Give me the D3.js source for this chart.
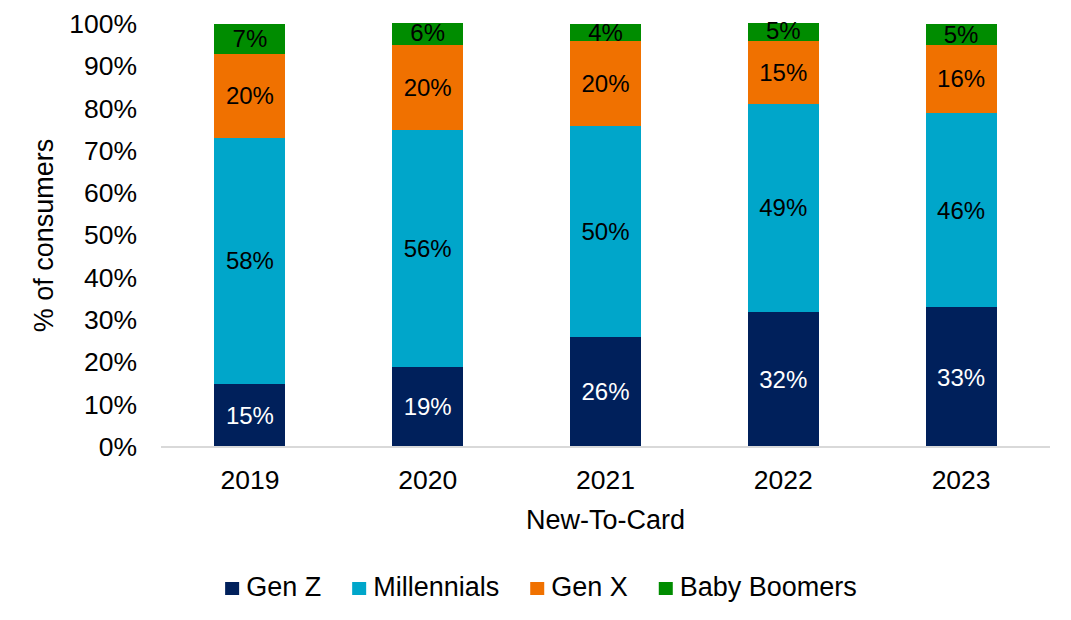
<!DOCTYPE html>
<html>
<head>
<meta charset="utf-8">
<script src="https://cdn.jsdelivr.net/npm/d3@7"></script>
<style>
  html, body { margin: 0; padding: 0; background: #fff; }
  text { font-family: "Liberation Sans", Arial, sans-serif; }
</style>
</head>
<body>
<svg id="chart" width="1071" height="620"></svg>
<script>
const years = ["2019", "2020", "2021", "2022", "2023"];
const seriesNames = ["Gen Z", "Millennials", "Gen X", "Baby Boomers"];
const genZ = [15, 19, 26, 32, 33];
const millennials = [58, 56, 50, 49, 46];
const genX = [20, 20, 20, 15, 16];
const babyBoomers = [7, 6, 4, 5, 5];
const yTicks = [0, 10, 20, 30, 40, 50, 60, 70, 80, 90, 100];
const colors = ["#00205B", "#00A6CA", "#F07100", "#008C00"];
const labelColors = ["#FFFFFF", "#000000", "#000000", "#000000"];

const seriesValues = [genZ, millennials, genX, babyBoomers];
const table = years.map((yr, i) => {
  const row = { year: yr };
  seriesNames.forEach((s, j) => row[s] = seriesValues[j][i]);
  return row;
});

const svg = d3.select("#chart");
const plot = { left: 161, right: 1050, top: 24, bottom: 447 };

const x = d3.scaleBand().domain(years).range([plot.left, plot.right]).paddingInner(0.6).paddingOuter(0.3);
const y = d3.scaleLinear().domain([0, 100]).range([plot.bottom, plot.top]);

const stack = d3.stack().keys(seriesNames);
const stacked = stack(table);

svg.append("defs").append("clipPath").attr("id", "clip")
  .append("rect").attr("x", 0).attr("y", y(100) - 1).attr("width", 1071).attr("height", plot.bottom - y(100) + 1);

const gBars = svg.append("g").attr("clip-path", "url(#clip)");
stacked.forEach((layer, j) => {
  gBars.selectAll(null).data(layer).enter().append("rect")
    .attr("x", d => x(d.data.year))
    .attr("width", x.bandwidth())
    .attr("y", d => y(d[1]))
    .attr("height", d => y(d[0]) - y(d[1]))
    .attr("fill", colors[j])
    .attr("shape-rendering", "crispEdges");
});

// data labels
stacked.forEach((layer, j) => {
  svg.selectAll(null).data(layer).enter().append("text")
    .attr("x", d => x(d.data.year) + x.bandwidth() / 2)
    .attr("y", d => y((d[0] + d[1]) / 2))
    .attr("dy", "0.35em")
    .attr("text-anchor", "middle")
    .attr("font-size", 24)
    .attr("fill", labelColors[j])
    .text(d => (d[1] - d[0]) + "%");
});

// x axis line
svg.append("line")
  .attr("x1", plot.left).attr("x2", plot.right)
  .attr("y1", plot.bottom).attr("y2", plot.bottom)
  .attr("stroke", "#D9D9D9").attr("stroke-width", 2);

// y axis
const yAxis = svg.append("g").attr("transform", `translate(${plot.left},0)`)
  .call(d3.axisLeft(y).tickValues(yTicks).tickSize(0).tickPadding(24).tickFormat(d => d + "%"));
yAxis.select(".domain").remove();
yAxis.selectAll("text").attr("font-size", 26.5).attr("fill", "#000")
  .attr("font-family", "'Liberation Sans', Arial, sans-serif");

// x axis labels
const xAxis = svg.append("g").attr("transform", `translate(0,${plot.bottom})`)
  .call(d3.axisBottom(x).tickSize(0));
xAxis.select(".domain").remove();
xAxis.selectAll("text").attr("font-size", 26.5).attr("fill", "#000")
  .attr("y", 42).attr("dy", 0)
  .attr("font-family", "'Liberation Sans', Arial, sans-serif");

// axis titles
svg.append("text")
  .attr("x", (plot.left + plot.right) / 2).attr("y", 529)
  .attr("text-anchor", "middle").attr("font-size", 27).attr("fill", "#000")
  .text("New-To-Card");

svg.append("text")
  .attr("transform", `translate(53,${(plot.top + plot.bottom) / 2}) rotate(-90)`)
  .attr("text-anchor", "middle").attr("font-size", 27).attr("fill", "#000")
  .text("% of consumers");

// legend
const legend = svg.append("g");
let cx = 0;
seriesNames.forEach((name, j) => {
  const g = legend.append("g").attr("transform", `translate(${cx},0)`);
  g.append("rect").attr("x", 0).attr("y", 582).attr("width", 14).attr("height", 13).attr("fill", colors[j]);
  const t = g.append("text").attr("x", 21).attr("y", 596).attr("font-size", 27).attr("fill", "#000").text(name);
  const w = t.node().getComputedTextLength();
  cx += 21 + w + 31;
});
const total = cx - 31;
legend.attr("transform", `translate(${541 - total / 2},0)`);
</script>
</body>
</html>
